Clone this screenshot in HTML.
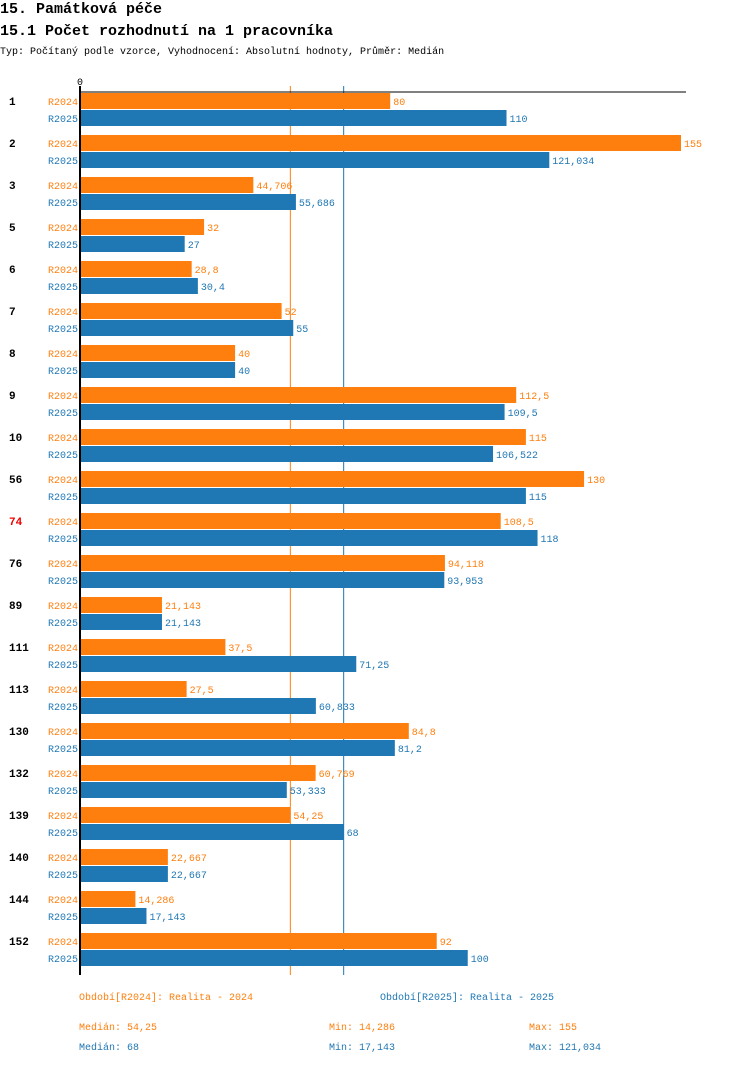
<!DOCTYPE html>
<html><head><meta charset="utf-8"><style>
body{margin:0;background:#fff;width:750px;height:1064px;overflow:hidden}
svg text{font-family:"Liberation Mono",monospace}
</style></head><body>
<svg width="750" height="1064" xmlns="http://www.w3.org/2000/svg">
<text x="0" y="13" font-size="15" font-weight="bold">15. Památková péče</text>
<text x="0" y="35" font-size="15" font-weight="bold">15.1 Počet rozhodnutí na 1 pracovníka</text>
<text x="0" y="54" font-size="10">Typ: Počítaný podle vzorce, Vyhodnocení: Absolutní hodnoty, Průměr: Medián</text>
<g id="plot"></g>
<text x="79" y="1000" font-size="10" fill="#ff7f0e">Období[R2024]: Realita - 2024</text>
<text x="380" y="1000" font-size="10" fill="#1f77b4">Období[R2025]: Realita - 2025</text>
<text x="79" y="1030" font-size="10" fill="#ff7f0e">Medián: 54,25</text>
<text x="329" y="1030" font-size="10" fill="#ff7f0e">Min: 14,286</text>
<text x="529" y="1030" font-size="10" fill="#ff7f0e">Max: 155</text>
<text x="79" y="1050" font-size="10" fill="#1f77b4">Medián: 68</text>
<text x="329" y="1050" font-size="10" fill="#1f77b4">Min: 17,143</text>
<text x="529" y="1050" font-size="10" fill="#1f77b4">Max: 121,034</text>
</svg>
<script>
const categories=["1","2","3","5","6","7","8","9","10","56","74","76","89","111","113","130","132","139","140","144","152"];
const r2024=[80,155,44.706,32,28.8,52,40,112.5,115,130,108.5,94.118,21.143,37.5,27.5,84.8,60.769,54.25,22.667,14.286,92];
const r2025=[110,121.034,55.686,27,30.4,55,40,109.5,106.522,115,118,93.953,21.143,71.25,60.833,81.2,53.333,68,22.667,17.143,100];
const medians=[54.25,68];
const seriesNames=["R2024","R2025"];
const colors=["#ff7f0e","#1f77b4"];
const X0=80, XMAX=155, XW=601;
const xs=v=>X0+v/XMAX*XW;
const groupY=i=>93+i*42;
const fmt=v=>String(Math.round(v*1000)/1000).replace('.',',');
const NS="http://www.w3.org/2000/svg";
const plotG=document.getElementById('plot');
function mk(tag,attrs,txt){const e=document.createElementNS(NS,tag);for(const k in attrs)e.setAttribute(k,attrs[k]);if(txt!=null)e.textContent=txt;plotG.appendChild(e);return e;}
const bottomY=groupY(categories.length-1)+42;
medians.forEach((m,s)=>{
  const l=mk('line',{x1:xs(m),x2:xs(m),y1:86,y2:bottomY,stroke:colors[s],'stroke-width':1});
  
  
});
const topAxis=mk('line',{x1:X0,x2:686,y1:92,y2:92,stroke:'#000','stroke-width':1});


const zl=mk('text',{x:77,y:85,'font-size':10},'0');


categories.forEach((c,i)=>{
  const y0=groupY(i);
  const cl=mk('text',{x:9,y:y0+12,'font-size':11,'font-weight':'bold',fill:c==="74"?"#e00":"#000"},c);
  
  
  [r2024,r2025].forEach((arr,s)=>{
    const yy=y0+s*17;
    const sl=mk('text',{x:78,y:yy+12,'font-size':10,fill:colors[s],'text-anchor':'end'},seriesNames[s]);
    
    
    const b=mk('rect',{x:X0,y:yy,width:xs(arr[i])-X0,height:16,fill:colors[s]});
    
    
    const vl=mk('text',{x:xs(arr[i])+3,y:yy+12,'font-size':10,fill:colors[s]},fmt(arr[i]));
    
    
  });
});
const yAxis=mk('line',{x1:X0,x2:X0,y1:86,y2:bottomY,stroke:'#000','stroke-width':2});


</script>
</body></html>
